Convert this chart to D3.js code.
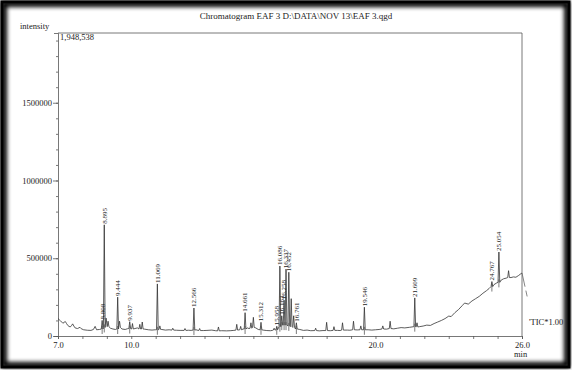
<!DOCTYPE html>
<meta charset="utf-8">
<script src="https://d3js.org/d3.v7.min.js"></script>
<style>
  body { margin: 0; background: #fff; }
  text { font-family: "Liberation Serif", "Times New Roman", serif; fill: #222; }
</style>
<div id="chart"></div>
<script>

// intensity values are in thousands of counts, time in minutes
var baseline = [
  [7.00,112],[7.05,105],[7.10,98],[7.15,90],[7.20,82],[7.25,88],[7.30,93],[7.35,80],
  [7.40,68],[7.45,62],[7.50,58],[7.55,66],[7.60,78],[7.65,64],[7.70,52],[7.80,48],
  [7.90,56],[7.95,47],[8.05,40],[8.20,37],[8.35,36],[8.45,42],[8.52,62],[8.58,40],
  [8.70,42],[9.15,50],[9.25,45],[9.35,42],[9.62,45],[9.75,42],[9.85,47],[10.15,48],
  [10.25,52],[10.55,44],[10.70,40],[10.85,38],[10.98,40],[11.25,42],[11.40,38],[11.55,40],
  [11.85,37],[12.00,36],[12.35,37],[12.45,36],[12.65,40],[12.95,35],[13.10,36],[13.30,38],
  [13.45,34],[13.70,34],[13.90,33],[14.05,34],[14.20,36],[14.58,45],[14.75,52],[14.82,48],
  [15.10,52],[15.20,42],[15.40,38],[15.55,35],[15.70,34],[15.78,36],[16.90,42],[17.05,36],
  [17.20,38],[17.35,34],[17.70,33],[17.85,35],[18.15,34],[18.45,36],[18.55,35],[18.85,38],
  [18.95,37],[19.25,39],[19.70,40],[19.85,38],[20.00,40],[20.15,42],[20.45,44],[20.75,46],
  [20.90,50],[21.05,54],[21.20,52],[21.40,56],[21.80,60],[21.95,64],[22.10,70],[22.25,68],
  [22.40,80],[22.55,90],[22.70,100],[22.85,112],[23.00,128],[23.10,125],[23.25,150],[23.40,170],
  [23.55,195],[23.65,212],[23.80,205],[23.95,225],[24.10,240],[24.25,255],[24.40,275],[24.55,292],[24.65,305],
  [24.85,330],[24.95,340],[25.15,360],[25.25,368],[25.35,372],[25.55,376],[25.65,380],[25.75,378],
  [25.85,388],[25.95,400],[26.00,405]
];

// labelled peaks: retention time, top, base
var peakTimes  = [8.808, 8.895, 9.444, 9.937, 11.069, 12.566, 14.661, 15.312, 15.958, 16.086,
                  16.163, 16.258, 16.337, 16.452, 16.761, 19.546, 21.609, 24.767, 25.054];
var peakTops   = [100, 715, 250, 92, 335, 180, 150, 88, 62, 450,
                  130, 230, 430, 410, 85, 185, 245, 350, 540];
var peakBases  = [45, 55, 45, 48, 40, 38, 45, 40, 40, 60,
                  70, 70, 70, 65, 45, 40, 60, 318, 345];

// unlabelled small peaks: time, top, base
var minorPeaks = [
  [8.97,115,70],[9.05,95,60],[9.52,95,55],[10.05,80,45],[10.35,75,45],[10.45,90,45],
  [11.17,65,42],[11.70,50,38],[12.20,48,36],[12.80,48,35],[13.57,58,33],[14.32,75,38],
  [14.48,62,40],[14.90,85,50],[15.00,120,55],[15.85,50,38],[16.55,240,60],[16.65,130,55],
  [17.55,50,35],[18.00,88,35],[18.30,60,36],[18.65,85,38],[19.10,95,40],[19.40,65,40],
  [20.30,65,45],[20.60,95,48],[21.70,85,58],[25.45,420,376]
];

var yTicks = [0, 500, 1000, 1500];
var xTickLabels = [7, 10, 20, 26];
var yMax = 1948.538;

var W = 572, H = 370;
var svg = d3.select("#chart").append("svg").attr("width", W).attr("height", H);

// frame with soft shadow
var defs = svg.append("defs");
var f = defs.append("filter").attr("id", "blur").attr("x", "-5%").attr("y", "-5%").attr("width", "110%").attr("height", "110%");
f.append("feGaussianBlur").attr("stdDeviation", 2.2);
svg.append("rect").attr("width", W).attr("height", H).attr("fill", "#fff");
svg.append("rect").attr("x", 4).attr("y", 4).attr("width", W - 9).attr("height", H - 9)
  .attr("fill", "none").attr("stroke", "#000").attr("stroke-width", 6).attr("filter", "url(#blur)");
svg.append("rect").attr("x", 2).attr("y", 2).attr("width", W - 5).attr("height", H - 5)
  .attr("fill", "none").attr("stroke", "#000").attr("stroke-width", 3);

var x = d3.scaleLinear().domain([7, 26]).range([58, 522]);
var y = d3.scaleLinear().domain([0, yMax]).range([336, 33]);

// build trace
var win = 0.035;
var pts = [];
var windows = [];
peakTimes.forEach(function(t, i) {
  pts.push([t - win, peakBases[i]], [t, peakTops[i]], [t + win, peakBases[i]]);
  windows.push([t - win, t + win]);
});
minorPeaks.forEach(function(p) {
  pts.push([p[0] - win, p[2]], [p[0], p[1]], [p[0] + win, p[2]]);
  windows.push([p[0] - win, p[0] + win]);
});
baseline.forEach(function(p) {
  var inside = windows.some(function(w) { return p[0] > w[0] && p[0] < w[1]; });
  if (!inside) pts.push(p);
});
pts.sort(function(a, b) { return a[0] - b[0]; });

// box
svg.append("path")
  .attr("d", "M" + x(7) + "," + y(yMax) + "H" + x(26) + "V" + y(0))
  .attr("fill", "none").attr("stroke", "#555").attr("stroke-width", 0.8);

// axes
var yAxis = d3.axisLeft(y).tickValues(yTicks).tickSize(4).tickFormat(function(d) { return d3.format("d")(d * 1000); });
var gy = svg.append("g").attr("transform", "translate(" + x(7) + ",0)").call(yAxis);
gy.selectAll(".tick line").attr("x2", -5);
var gyMinor = svg.append("g").attr("transform", "translate(" + x(7) + ",0)")
  .call(d3.axisLeft(y).tickValues(d3.range(0, 1901, 100)).tickSize(2).tickFormat(""));
gyMinor.select(".domain").remove();

var xAxis = d3.axisBottom(x).tickValues(d3.range(7, 26.01, 1)).tickSize(3)
  .tickFormat(function(d) { return xTickLabels.indexOf(d) >= 0 ? d3.format(".1f")(d) : ""; });
var gx = svg.append("g").attr("transform", "translate(0," + y(0) + ")").call(xAxis);

[gy, gx, gyMinor].forEach(function(g) {
  g.selectAll("path, line").attr("stroke", "#555").attr("stroke-width", 0.8);
  g.selectAll("text").style("font-family", "Liberation Serif").style("font-size", "8.5px").attr("fill", "#222");
});
gy.selectAll("text").attr("x", -6);
gx.selectAll("text").attr("y", 6);

// trace
var line = d3.line().x(function(d) { return x(d[0]); }).y(function(d) { return y(d[1]); });
svg.append("path").datum(pts).attr("d", line)
  .attr("fill", "none").attr("stroke", "#333").attr("stroke-width", 0.8);

// integration marks
peakTimes.forEach(function(t, i) {
  svg.append("line")
    .attr("x1", x(t)).attr("x2", x(t))
    .attr("y1", y(peakBases[i]) - 3).attr("y2", y(peakBases[i]) + 5)
    .attr("stroke", "#444").attr("stroke-width", 0.7);
});

// peak labels
peakTimes.forEach(function(t, i) {
  var px = x(t) + 2.4, py = y(peakTops[i]) - 1;
  svg.append("text")
    .attr("transform", "translate(" + px + "," + py + ") rotate(-90)")
    .style("font-size", "7px")
    .text(d3.format(".3f")(t));
});

// end of trace -> label
svg.append("line")
  .attr("x1", x(26)).attr("y1", y(405))
  .attr("x2", 531).attr("y2", 314)
  .attr("stroke", "#666").attr("stroke-width", 0.8).attr("stroke-dasharray", "14,4,6,30");

svg.append("text").attr("x", 529).attr("y", 325).style("font-size", "8.5px").text("'TIC*1.00");
svg.append("text").attr("x", 514).attr("y", 357).style("font-size", "8.5px").text("min");
svg.append("text").attr("x", 20).attr("y", 29).style("font-size", "8.5px").text("intensity");
svg.append("text").attr("x", 60).attr("y", 40).style("font-size", "8.5px").text("1,948,538");
svg.append("text").attr("x", 296).attr("y", 19).attr("text-anchor", "middle")
  .style("font-size", "9px").text("Chromatogram EAF 3 D:\\DATA\\NOV 13\\EAF 3.qgd");

</script>
